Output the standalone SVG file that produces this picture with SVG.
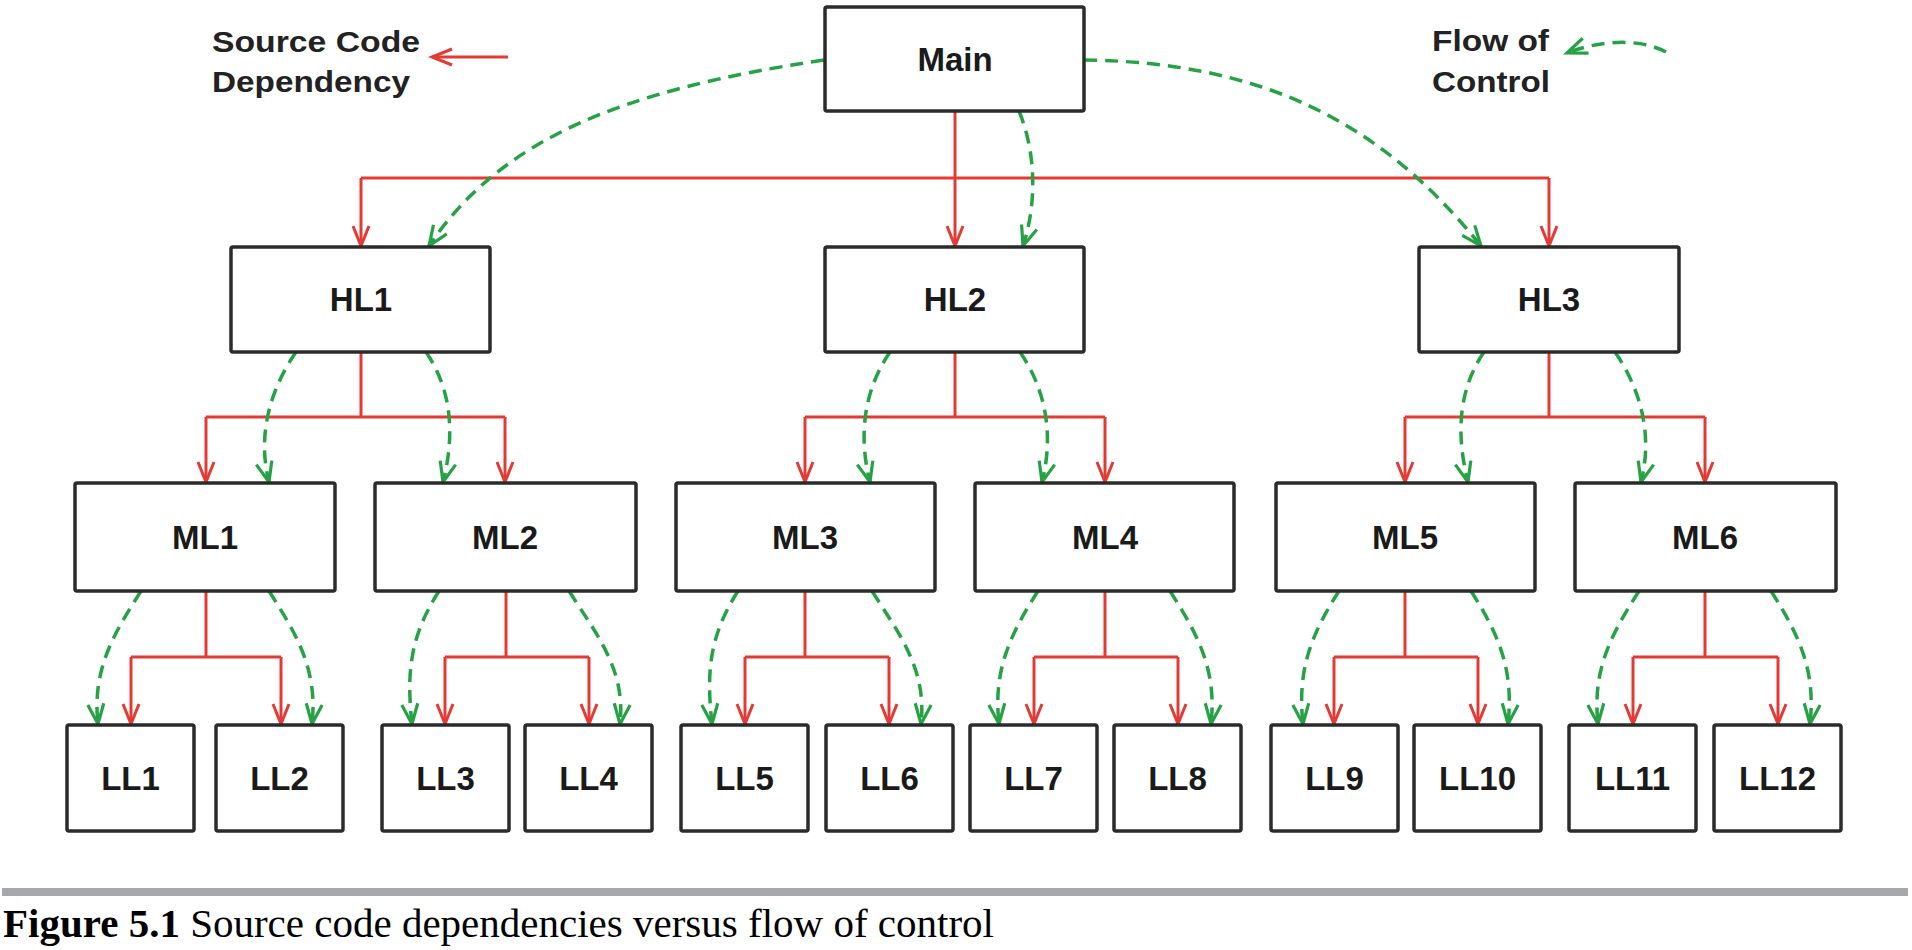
<svg xmlns="http://www.w3.org/2000/svg" width="1912" height="950" viewBox="0 0 1912 950">
<style>
.box{fill:#fff;stroke:#2b2b2b;stroke-width:3.5}
.lbl{font-family:"Liberation Sans",Arial,sans-serif;font-weight:bold;font-size:33px;fill:#1a1a1a;text-anchor:middle}
.leg{font-family:"Liberation Sans",Arial,sans-serif;font-weight:bold;font-size:29px;fill:#222}
.dep{fill:none;stroke:#e53a33;stroke-width:3;marker-end:url(#ar)}
.dep0{fill:none;stroke:#e53a33;stroke-width:3}
.flow{fill:none;stroke:#25a244;stroke-width:3.5;stroke-dasharray:13 8;marker-end:url(#ag)}
.cap{font-family:"Liberation Serif","Times New Roman",serif;font-size:41px;fill:#000}
</style>
<defs>
<marker id="ar" markerUnits="userSpaceOnUse" viewBox="-24 -12 28 24" markerWidth="28" markerHeight="24" refX="0" refY="0" orient="auto">
<path d="M-20,-8 L0,0 L-20,8" fill="none" stroke="#e53a33" stroke-width="3"/>
</marker>
<marker id="ag" markerUnits="userSpaceOnUse" viewBox="-24 -12 28 24" markerWidth="28" markerHeight="24" refX="0" refY="0" orient="auto">
<path d="M-20,-8 L0,0 L-20,8" fill="none" stroke="#25a244" stroke-width="3.2"/>
</marker>
</defs>
<rect width="1912" height="950" fill="#fff"/>

<g id="connectors">
<!-- legend -->
<path class="dep" d="M508,57 L432,57"/>
<path class="flow" d="M1666,52 C1640,38 1600,40 1567,53"/>
<!-- Main to HL -->
<path class="dep" d="M955,111 L955,246"/>
<path class="dep0" d="M361,178 L1549,178"/>
<path class="dep" d="M361,178 L361,246"/>
<path class="dep" d="M1549,178 L1549,246"/>
<path class="flow" d="M824,60 C620,90 500,140 429,246"/>
<path class="flow" d="M1084,60 C1260,62 1380,120 1481,246"/>
<path class="flow" d="M1019,111 C1035,150 1038,200 1023,246"/>
<!-- HL to ML -->
<path class="dep0" d="M361,352 L361,417 M206,417 L505,417"/>
<path class="dep" d="M206,417 L206,482"/>
<path class="dep" d="M505,417 L505,482"/>
<path class="dep0" d="M955,352 L955,417 M805,417 L1105,417"/>
<path class="dep" d="M805,417 L805,482"/>
<path class="dep" d="M1105,417 L1105,482"/>
<path class="dep0" d="M1549,352 L1549,417 M1405,417 L1705,417"/>
<path class="dep" d="M1405,417 L1405,482"/>
<path class="dep" d="M1705,417 L1705,482"/>
<path class="flow" d="M296,352 C270,390 257,435 269,482"/>
<path class="flow" d="M426,352 C452,390 455,435 443,482"/>
<path class="flow" d="M890,352 C864,390 858,435 870,482"/>
<path class="flow" d="M1020,352 C1046,390 1054,435 1042,482"/>
<path class="flow" d="M1484,352 C1458,390 1456,435 1468,482"/>
<path class="flow" d="M1615,352 C1641,390 1653,435 1641,482"/>
<!-- ML to LL -->
<path class="dep0" d="M206,591 L206,657 M131,657 L281,657"/>
<path class="dep" d="M131,657 L131,724"/>
<path class="dep" d="M281,657 L281,724"/>
<path class="dep0" d="M506,591 L506,657 M445,657 L589,657"/>
<path class="dep" d="M445,657 L445,724"/>
<path class="dep" d="M589,657 L589,724"/>
<path class="dep0" d="M805,591 L805,657 M745,657 L889,657"/>
<path class="dep" d="M745,657 L745,724"/>
<path class="dep" d="M889,657 L889,724"/>
<path class="dep0" d="M1105,591 L1105,657 M1034,657 L1178,657"/>
<path class="dep" d="M1034,657 L1034,724"/>
<path class="dep" d="M1178,657 L1178,724"/>
<path class="dep0" d="M1405,591 L1405,657 M1334,657 L1478,657"/>
<path class="dep" d="M1334,657 L1334,724"/>
<path class="dep" d="M1478,657 L1478,724"/>
<path class="dep0" d="M1705,591 L1705,657 M1633,657 L1778,657"/>
<path class="dep" d="M1633,657 L1633,724"/>
<path class="dep" d="M1778,657 L1778,724"/>
<path class="flow" d="M141,591 C113,635 92,670 98,724"/>
<path class="flow" d="M269,591 C297,635 318,670 312,724"/>
<path class="flow" d="M439,591 C411,635 406,670 412,724"/>
<path class="flow" d="M569,591 C597,635 626,670 620,724"/>
<path class="flow" d="M738,591 C710,635 706,670 712,724"/>
<path class="flow" d="M872,591 C900,635 927,670 921,724"/>
<path class="flow" d="M1038,591 C1010,635 993,670 999,724"/>
<path class="flow" d="M1170,591 C1198,635 1217,670 1211,724"/>
<path class="flow" d="M1339,591 C1311,635 1297,670 1303,724"/>
<path class="flow" d="M1471,591 C1499,635 1514,670 1508,724"/>
<path class="flow" d="M1639,591 C1611,635 1592,670 1598,724"/>
<path class="flow" d="M1771,591 C1799,635 1816,670 1810,724"/>
</g>

<g id="legend-dependency">
<text class="leg" x="212" y="52" textLength="208" lengthAdjust="spacingAndGlyphs">Source Code</text>
<text class="leg" x="212" y="92" textLength="198" lengthAdjust="spacingAndGlyphs">Dependency</text>
</g>
<g id="legend-flow">
<text class="leg" x="1432" y="51" textLength="117" lengthAdjust="spacingAndGlyphs">Flow of</text>
<text class="leg" x="1432" y="92" textLength="118" lengthAdjust="spacingAndGlyphs">Control</text>
</g>

<g id="main"><rect class="box" x="825" y="7" width="259" height="104" rx="2"/><text class="lbl" x="955" y="71">Main</text></g>

<g id="hl1"><rect class="box" x="231" y="247" width="259" height="105" rx="2"/><text class="lbl" x="361" y="311">HL1</text></g>
<g id="hl2"><rect class="box" x="825" y="247" width="259" height="105" rx="2"/><text class="lbl" x="955" y="311">HL2</text></g>
<g id="hl3"><rect class="box" x="1419" y="247" width="260" height="105" rx="2"/><text class="lbl" x="1549" y="311">HL3</text></g>

<g id="ml1"><rect class="box" x="75" y="483" width="260" height="108" rx="2"/><text class="lbl" x="205" y="549">ML1</text></g>
<g id="ml2"><rect class="box" x="375" y="483" width="261" height="108" rx="2"/><text class="lbl" x="505" y="549">ML2</text></g>
<g id="ml3"><rect class="box" x="676" y="483" width="259" height="108" rx="2"/><text class="lbl" x="805" y="549">ML3</text></g>
<g id="ml4"><rect class="box" x="975" y="483" width="259" height="108" rx="2"/><text class="lbl" x="1105" y="549">ML4</text></g>
<g id="ml5"><rect class="box" x="1276" y="483" width="259" height="108" rx="2"/><text class="lbl" x="1405" y="549">ML5</text></g>
<g id="ml6"><rect class="box" x="1575" y="483" width="261" height="108" rx="2"/><text class="lbl" x="1705" y="549">ML6</text></g>

<g id="ll1"><rect class="box" x="67" y="725" width="127" height="106" rx="2"/><text class="lbl" x="130.5" y="790">LL1</text></g>
<g id="ll2"><rect class="box" x="216" y="725" width="127" height="106" rx="2"/><text class="lbl" x="279.5" y="790">LL2</text></g>
<g id="ll3"><rect class="box" x="382" y="725" width="127" height="106" rx="2"/><text class="lbl" x="445.5" y="790">LL3</text></g>
<g id="ll4"><rect class="box" x="525" y="725" width="127" height="106" rx="2"/><text class="lbl" x="588.5" y="790">LL4</text></g>
<g id="ll5"><rect class="box" x="681" y="725" width="127" height="106" rx="2"/><text class="lbl" x="744.5" y="790">LL5</text></g>
<g id="ll6"><rect class="box" x="826" y="725" width="127" height="106" rx="2"/><text class="lbl" x="889.5" y="790">LL6</text></g>
<g id="ll7"><rect class="box" x="970" y="725" width="127" height="106" rx="2"/><text class="lbl" x="1033.5" y="790">LL7</text></g>
<g id="ll8"><rect class="box" x="1114" y="725" width="127" height="106" rx="2"/><text class="lbl" x="1177.5" y="790">LL8</text></g>
<g id="ll9"><rect class="box" x="1271" y="725" width="127" height="106" rx="2"/><text class="lbl" x="1334.5" y="790">LL9</text></g>
<g id="ll10"><rect class="box" x="1414" y="725" width="127" height="106" rx="2"/><text class="lbl" x="1477.5" y="790">LL10</text></g>
<g id="ll11"><rect class="box" x="1569" y="725" width="127" height="106" rx="2"/><text class="lbl" x="1632.5" y="790">LL11</text></g>
<g id="ll12"><rect class="box" x="1714" y="725" width="127" height="106" rx="2"/><text class="lbl" x="1777.5" y="790">LL12</text></g>

<g id="caption">
<rect x="2" y="888" width="1906" height="8" fill="#a7a8ab"/>
<text class="cap" x="3" y="937"><tspan font-weight="bold">Figure 5.1</tspan> Source code dependencies versus flow of control</text>
</g>
</svg>
